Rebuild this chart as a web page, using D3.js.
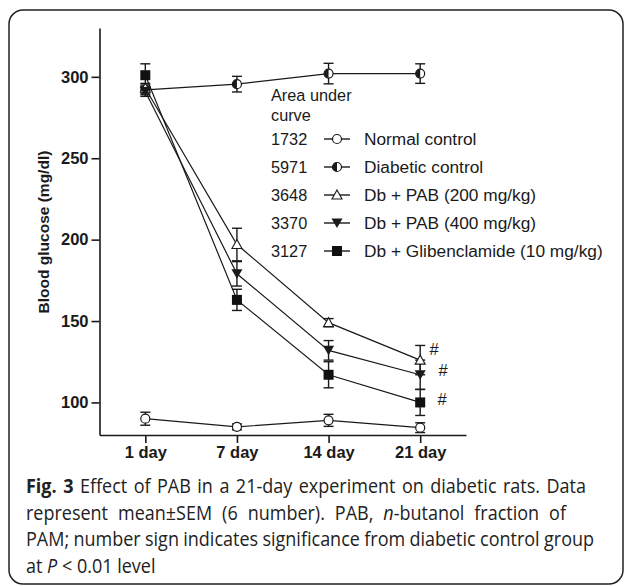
<!DOCTYPE html>
<html>
<head>
<meta charset="utf-8">
<script src="https://cdn.jsdelivr.net/npm/d3@7"></script>
<style>
  body { margin: 0; background: #fff; }
  svg { display: block; }
  .axis path, .axis line { stroke: #1a1a1a; stroke-width: 1.6px; }
  .axis text { font-family: "Liberation Sans", Arial, sans-serif; font-weight: bold; font-size: 16.5px; fill: #1a1a1a; }
  .leg { font-family: "Liberation Sans", Arial, sans-serif; font-size: 16.3px; fill: #1a1a1a; }
  .leg-label { font-size: 17.3px; }
  .cap { font-family: "Open Sans", "Noto Sans", sans-serif; font-size: 20px; fill: #222; }
</style>
</head>
<body>
<div id="chart"></div>
<script>
// x categories
const days = ["1 day", "7 day", "14 day", "21 day"];

// series (mean, SEM)
const seriesNames = ["Normal control", "Diabetic control", "Db + PAB (200 mg/kg)", "Db + PAB (400 mg/kg)", "Db + Glibenclamide (10 mg/kg)"];
const aucValues = [1732, 5971, 3648, 3370, 3127];

const normalMean = [90, 85, 89, 84.5];
const normalSem = [4, 1.8, 3.7, 3];
const diabeticMean = [292, 295.5, 302, 302];
const diabeticSem = [3, 4.8, 6.3, 6];
const pab200Mean = [293, 197, 149, 126];
const pab200Sem = [3, 10, 2.5, 9];
const pab400Mean = [291, 179, 132, 117];
const pab400Sem = [3, 7.5, 6, 9];
const glibMean = [301, 163, 117, 100];
const glibSem = [7, 6.5, 8, 8];

const yTicks = [100, 150, 200, 250, 300];
const sigSeries = ["Db + PAB (200 mg/kg)", "Db + PAB (400 mg/kg)", "Db + Glibenclamide (10 mg/kg)"];

const captionLines = [
    [{t: "Fig. 3", b: true}, {t: " Effect of PAB in a 21-day experiment on diabetic rats. Data"}],
    [{t: "represent mean±SEM (6 number). PAB, "}, {t: "n", i: true}, {t: "-butanol fraction of"}],
    [{t: "PAM; number sign indicates significance from diabetic control group"}],
    [{t: "at "}, {t: "P", i: true}, {t: " < 0.01 level"}]
];

const W = 630, H = 586;

const svg = d3.select("#chart").append("svg")
    .attr("width", W)
    .attr("height", H);

// frame
svg.append("rect")
    .attr("x", 9).attr("y", 10)
    .attr("width", 614).attr("height", 574)
    .attr("rx", 14)
    .attr("fill", "none")
    .attr("stroke", "#222")
    .attr("stroke-width", 1.5);

const x = d3.scalePoint()
    .domain(days)
    .range([99.5, 466])
    .padding(0.5);

const y = d3.scaleLinear()
    .domain([80, 330])
    .range([435, 28]);

// axes
svg.append("g")
    .attr("class", "axis")
    .attr("transform", "translate(99.5,0)")
    .call(d3.axisLeft(y).tickValues(yTicks).tickSize(8).tickPadding(3).tickSizeOuter(0));

svg.append("g")
    .attr("class", "axis")
    .attr("transform", "translate(0,435)")
    .call(d3.axisBottom(x).tickSize(8).tickPadding(3).tickSizeOuter(0));

svg.append("text")
    .attr("transform", "translate(49,232) rotate(-90)")
    .attr("text-anchor", "middle")
    .style("font-family", "Liberation Sans, Arial, sans-serif")
    .style("font-weight", "bold")
    .style("font-size", "15.5px")
    .style("fill", "#1a1a1a")
    .text("Blood glucose (mg/dl)");

const series = [
    {name: seriesNames[0], mean: normalMean, sem: normalSem, marker: "circleOpen"},
    {name: seriesNames[1], mean: diabeticMean, sem: diabeticSem, marker: "circleHalf"},
    {name: seriesNames[2], mean: pab200Mean, sem: pab200Sem, marker: "triUpOpen"},
    {name: seriesNames[3], mean: pab400Mean, sem: pab400Sem, marker: "triDown"},
    {name: seriesNames[4], mean: glibMean, sem: glibSem, marker: "square"}
];
series.forEach((s, i) => s.auc = aucValues[i]);

function drawMarker(g, type) {
    if (type === "circleOpen") {
        g.append("circle").attr("r", 4.5).attr("fill", "#fff").attr("stroke", "#1a1a1a").attr("stroke-width", 1.2);
    } else if (type === "circleHalf") {
        g.append("circle").attr("r", 4.5).attr("fill", "#fff").attr("stroke", "#1a1a1a").attr("stroke-width", 1.2);
        g.append("path").attr("d", "M0,-4.5 A4.5,4.5 0 0,0 0,4.5 Z").attr("fill", "#1a1a1a");
    } else if (type === "triUpOpen") {
        g.append("path").attr("d", "M0,-5 L5,4 L-5,4 Z").attr("fill", "#fff").attr("stroke", "#1a1a1a").attr("stroke-width", 1.1);
    } else if (type === "triDown") {
        g.append("path").attr("d", "M-5.5,-4.5 L5.5,-4.5 L0,5 Z").attr("fill", "#1a1a1a");
    } else if (type === "square") {
        g.append("rect").attr("x", -5).attr("y", -5).attr("width", 10).attr("height", 10).attr("fill", "#111");
    }
}

const line = d3.line()
    .x((d, i) => x(days[i]))
    .y(d => y(d));

const plot = svg.append("g");

// lines
plot.selectAll(".series-line")
    .data(series)
    .enter().append("path")
    .attr("class", "series-line")
    .attr("d", d => line(d.mean))
    .attr("fill", "none")
    .attr("stroke", "#1a1a1a")
    .attr("stroke-width", 1.2);

// error bars
series.forEach(s => {
    s.mean.forEach((m, i) => {
        let cx = x(days[i]);
        let top = y(m + s.sem[i]), bot = y(m - s.sem[i]);
        let eb = plot.append("g").attr("stroke", "#1a1a1a").attr("stroke-width", 1.4);
        eb.append("line").attr("x1", cx).attr("x2", cx).attr("y1", top).attr("y2", bot);
        eb.append("line").attr("x1", cx - 5).attr("x2", cx + 5).attr("y1", top).attr("y2", top);
        eb.append("line").attr("x1", cx - 5).attr("x2", cx + 5).attr("y1", bot).attr("y2", bot);
    });
});

// markers
series.forEach(s => {
    s.mean.forEach((m, i) => {
        let g = plot.append("g").attr("transform", `translate(${x(days[i])},${y(m)})`);
        drawMarker(g, s.marker);
    });
});

// significance marks next to last point
const hashOffsets = [[14, -11], [23, -5], [22, -3]];
sigSeries.forEach((name, k) => {
    let s = series.find(d => d.name === name);
    let last = days.length - 1;
    svg.append("text")
        .attr("class", "leg")
        .attr("x", x(days[last]) + hashOffsets[k][0])
        .attr("y", y(s.mean[last]) + hashOffsets[k][1])
        .attr("text-anchor", "middle")
        .attr("dy", "0.35em")
        .style("font-size", "16.5px")
        .text("#");
});

// legend
const legend = svg.append("g");
legend.append("text").attr("class", "leg").attr("x", 271).attr("y", 95).attr("dy", "0.35em").text("Area under");
legend.append("text").attr("class", "leg").attr("x", 271).attr("y", 115).attr("dy", "0.35em").text("curve");

const rows = legend.selectAll(".row")
    .data(series)
    .enter().append("g")
    .attr("class", "row")
    .attr("transform", (d, i) => `translate(0,${139 + i * 28})`);

rows.append("text").attr("class", "leg").attr("x", 271).attr("dy", "0.35em").text(d => d.auc);
rows.append("line").attr("x1", 324).attr("x2", 350).attr("stroke", "#1a1a1a").attr("stroke-width", 1.4);
rows.each(function(d) {
    let g = d3.select(this).append("g").attr("transform", "translate(337,0)");
    drawMarker(g, d.marker);
});
rows.append("text").attr("class", "leg leg-label").attr("x", 364).attr("dy", "0.35em").text(d => d.name);

// caption, justified lines
const capScale = 0.9;
const capTargets = [586, 566, 594, null];
const cap = svg.append("g").attr("transform", `translate(26,0) scale(${capScale},1)`);
captionLines.forEach((parts, li) => {
    let t = cap.append("text")
        .attr("class", "cap")
        .attr("x", 0)
        .attr("y", 493 + li * 26.6);
    parts.forEach(p => {
        t.append("tspan")
            .style("font-weight", p.b ? "bold" : null)
            .style("font-style", p.i ? "italic" : null)
            .text(p.t);
    });
    if (capTargets[li]) {
        let want = (capTargets[li] - 26) / capScale;
        let have = t.node().getComputedTextLength();
        let spaces = parts.map(p => p.t).join("").split(" ").length - 1;
        t.style("word-spacing", ((want - have) / spaces) + "px");
    }
});
</script>
</body>
</html>
